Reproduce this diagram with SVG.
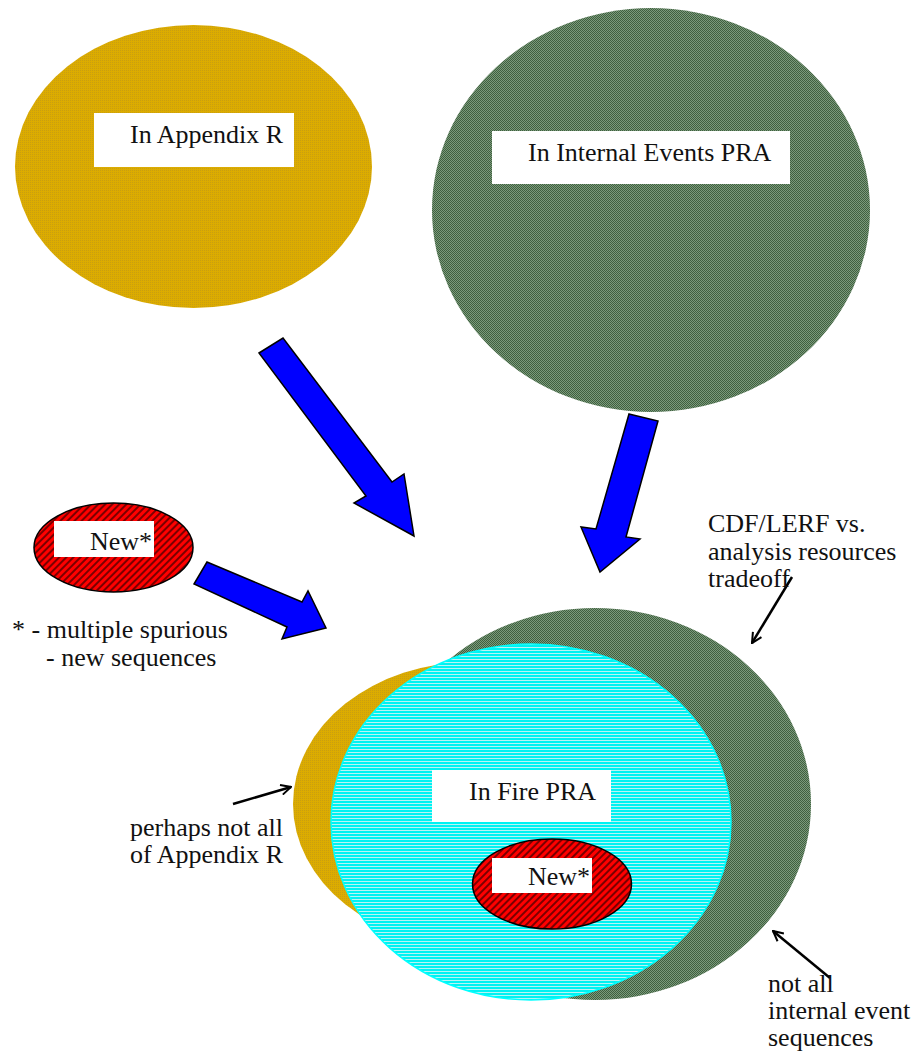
<svg xmlns="http://www.w3.org/2000/svg" width="916" height="1052" viewBox="0 0 916 1052">
  <defs>
    <!-- gold dotted texture -->
    <pattern id="goldTex" width="2" height="2" patternUnits="userSpaceOnUse">
      <rect width="2" height="2" fill="#dcac00"/>
      <rect width="1" height="1" fill="#c99e10"/>
    </pattern>
    <!-- green checker texture -->
    <pattern id="greenTex" width="2" height="2" patternUnits="userSpaceOnUse">
      <rect width="2" height="2" fill="#7b9a7b"/>
      <rect width="1" height="1" fill="#3f5f3f"/>
      <rect x="1" y="1" width="1" height="1" fill="#3f5f3f"/>
    </pattern>
    <!-- cyan horizontal stripes -->
    <pattern id="cyanTex" width="4" height="3" patternUnits="userSpaceOnUse">
      <rect width="4" height="3" fill="#00f2f2"/>
      <rect y="2" width="4" height="1" fill="#b8f4f4"/>
    </pattern>
    <!-- red diagonal hatch -->
    <pattern id="redTex" width="5" height="5" patternUnits="userSpaceOnUse" patternTransform="rotate(45)">
      <rect width="5" height="5" fill="#ff0000"/>
      <rect width="2" height="5" fill="#7a0000"/>
    </pattern>
    <marker id="open" viewBox="0 0 12 12" refX="11" refY="6" markerWidth="12" markerHeight="12" markerUnits="userSpaceOnUse" orient="auto">
      <path d="M1,1 L11,6 L1,11" fill="none" stroke="#000" stroke-width="2"/>
    </marker>
    <style>
      text { font-family: "Liberation Serif", "DejaVu Serif", "Times New Roman", serif; font-size: 26px; fill: #111; }
      .box { fill: #fff; }
      .blue { fill: #0000ff; stroke: #000; stroke-width: 1.5; stroke-linejoin: miter; }
      .red { fill: url(#redTex); stroke: #000; stroke-width: 1.5; }
      .pointer { fill: none; stroke: #000; stroke-width: 2.5; marker-end: url(#open); }
    </style>
  </defs>
  <rect width="916" height="1052" fill="#fff"/>

  <!-- source sets -->
  <g id="appendix-r">
    <ellipse cx="193.5" cy="166.5" rx="178.5" ry="141.5" fill="url(#goldTex)"/>
    <rect class="box" x="94" y="113" width="200" height="54"/>
    <text x="130" y="143">In Appendix R</text>
  </g>
  <g id="internal-events">
    <ellipse cx="651" cy="210" rx="219" ry="202" fill="url(#greenTex)"/>
    <rect class="box" x="492" y="131" width="298" height="53"/>
    <text x="528" y="161">In Internal Events PRA</text>
  </g>
  <g id="new-source">
    <ellipse class="red" cx="113.5" cy="547.5" rx="79.5" ry="44.5"/>
    <rect class="box" x="54" y="521" width="100" height="36"/>
    <text x="90" y="550">New*</text>
  </g>

  <!-- fire PRA composition -->
  <g id="fire-internal">
    <ellipse cx="595" cy="804" rx="216" ry="196" fill="url(#greenTex)"/>
  </g>
  <g id="fire-appendix">
    <ellipse cx="472" cy="804" rx="179" ry="142" fill="url(#goldTex)"/>
  </g>
  <g id="fire-pra">
    <ellipse cx="531" cy="822" rx="200" ry="178" fill="url(#cyanTex)" stroke="#00ffff" stroke-width="1.5"/>
    <rect class="box" x="432" y="770" width="179" height="52"/>
    <text x="469" y="800">In Fire PRA</text>
  </g>
  <g id="fire-new">
    <ellipse class="red" cx="552" cy="884" rx="79.5" ry="45"/>
    <rect class="box" x="492" y="858" width="100" height="35"/>
    <text x="528" y="885">New*</text>
  </g>

  <!-- block arrows and pointers -->
  <g id="connectors">
    <polygon class="blue" points="259,353 283,338 392,482 404,474 414,536 354,503 366,496"/>
    <polygon class="blue" points="629,414 658,421 626,537 640,539 600,572 581,527 596,529"/>
    <polygon class="blue" points="207,562 194,584 287,627 282,639 326,628 308,591 302,602"/>
    <line class="pointer" x1="792" y1="577" x2="752" y2="643"/>
    <line class="pointer" x1="233" y1="804" x2="291" y2="787"/>
    <line class="pointer" x1="830" y1="978" x2="773" y2="931"/>
  </g>

  <!-- annotations -->
  <g id="notes">
    <text x="708" y="532">CDF/LERF vs.</text>
    <text x="708" y="560">analysis resources</text>
    <text x="708" y="587">tradeoff</text>
    <text x="12" y="638">* - multiple spurious</text>
    <text x="46" y="666">- new sequences</text>
    <text x="130" y="836">perhaps not all</text>
    <text x="130" y="863">of Appendix R</text>
    <text x="768" y="992">not all</text>
    <text x="768" y="1019">internal event</text>
    <text x="768" y="1046">sequences</text>
  </g>
</svg>
